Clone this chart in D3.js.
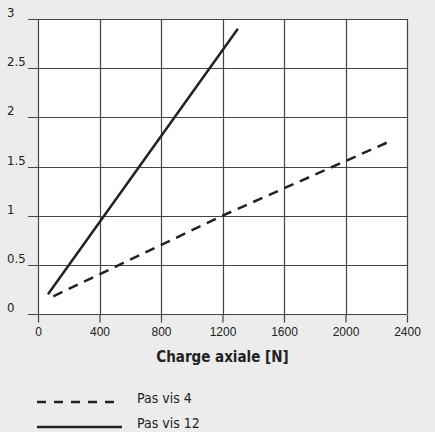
<!DOCTYPE html>
<meta charset="utf-8">
<style>
body { margin: 0; background: #ececec; }
svg { font-family: "Liberation Sans Narrow", "DejaVu Sans Condensed", sans-serif; }
.tick text { fill: #222; font-size: 12px; }
</style>
<body>
<script src="https://cdn.jsdelivr.net/npm/d3@7"></script>
<script>

var xTicks = [0, 400, 800, 1200, 1600, 2000, 2400],
    yTicks = [0, 0.5, 1, 1.5, 2, 2.5, 3],
    yLabels = ["0", "0.5", "1", "1.5", "2", "2.5", "3"];

// Pas vis 4 (dashed) and Pas vis 12 (solid)
var pas4 = [[100, 0.18], [1200, 1.0], [2280, 1.75]],
    pas12 = [[65, 0.2], [1300, 2.9]];

var seriesNames = ["Pas vis 4", "Pas vis 12"];

var width = 435, height = 432,
    margin = {left: 38, top: 19, right: 28, bottom: 118};

var svg = d3.select("body").append("svg")
    .attr("width", width)
    .attr("height", height);

var x = d3.scaleLinear().domain([0, 2400]).range([margin.left, width - margin.right]);
var y = d3.scaleLinear().domain([0, 3]).range([height - margin.bottom, margin.top]);

svg.append("rect")
    .attr("x", x(0)).attr("y", y(3))
    .attr("width", x(2400) - x(0)).attr("height", y(0) - y(3))
    .style("fill", "#fff");

// grid
svg.append("g").selectAll("line")
    .data(xTicks)
  .enter().append("line")
    .attr("x1", function(d) { return Math.round(x(d)) + 0.5; })
    .attr("x2", function(d) { return Math.round(x(d)) + 0.5; })
    .attr("y1", y(0)).attr("y2", y(3))
    .style("stroke", "#444").style("stroke-width", 1.2);

svg.append("g").selectAll("line")
    .data(yTicks)
  .enter().append("line")
    .attr("y1", function(d) { return Math.round(y(d)) + 0.5; })
    .attr("y2", function(d) { return Math.round(y(d)) + 0.5; })
    .attr("x1", x(0) - 10).attr("x2", x(2400))
    .style("stroke", "#444").style("stroke-width", 1.2);

// x axis ticks + labels
var xAxis = d3.axisBottom(x).tickValues(xTicks).tickSize(8).tickPadding(5).tickFormat(d3.format("d"));
var gx = svg.append("g")
    .attr("transform", "translate(0," + (Math.round(y(0)) + 0.5) + ")")
    .call(xAxis);
gx.select(".domain").remove();
gx.selectAll(".tick line").style("stroke", "#444").style("stroke-width", 1.2);

// y labels sit just above their grid line
svg.append("g").selectAll("text")
    .data(yTicks)
  .enter().append("text")
    .attr("x", 7)
    .attr("y", function(d) { return y(d) - 2; })
    .style("font-size", "13px").style("fill", "#222")
    .text(function(d, i) { return yLabels[i]; });

svg.append("text")
    .attr("x", (x(0) + x(2400)) / 2)
    .attr("y", y(0) + 48)
    .attr("text-anchor", "middle")
    .style("font-size", "15px").style("font-weight", "bold").style("fill", "#222")
    .text("Charge axiale [N]");

var line = d3.line()
    .x(function(d) { return x(d[0]); })
    .y(function(d) { return y(d[1]); });

svg.append("path")
    .datum(pas4)
    .attr("d", line)
    .style("fill", "none").style("stroke", "#222").style("stroke-width", 2.5)
    .style("stroke-dasharray", "10,7");

svg.append("path")
    .datum(pas12)
    .attr("d", line)
    .style("fill", "none").style("stroke", "#222").style("stroke-width", 2.5);

// legend
var legend = svg.append("g").selectAll("g")
    .data(seriesNames)
  .enter().append("g")
    .attr("transform", function(d, i) { return "translate(37," + (402 + i * 25) + ")"; });

legend.append("line")
    .attr("x1", 0).attr("x2", 85)
    .style("stroke", "#222").style("stroke-width", 2.5)
    .style("stroke-dasharray", function(d, i) { return i == 0 ? "9,8" : null; });

legend.append("text")
    .attr("x", 100).attr("y", 1)
    .style("font-size", "14px").style("fill", "#222")
    .text(function(d) { return d; });

</script>
